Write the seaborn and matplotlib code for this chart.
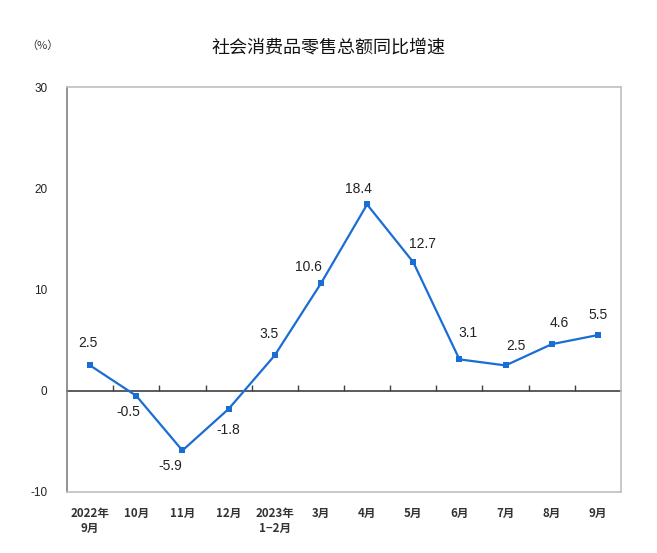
import matplotlib
matplotlib.use('Agg')
import matplotlib.pyplot as plt
import seaborn as sns
import numpy as np

months = ['2022年\n9月', '10月', '11月', '12月', '2023年\n1−2月', '3月',
          '4月', '5月', '6月', '7月', '8月', '9月']
growth = [2.5, -0.5, -5.9, -1.8, 3.5, 10.6, 18.4, 12.7, 3.1, 2.5, 4.6, 5.5]
yticks = [-10, 0, 10, 20, 30]
title = '社会消费品零售总额同比增速'

# label offsets in pixels (dx, dy) relative to each point
offsets = [(-2, 22), (-8, -16), (-12, -16), (0, -21), (-6, 21), (-12, 16),
           (-9, 15), (9, 18), (9, 26), (10, 19), (8, 21), (0, 20)]

sns.set_style('white')
plt.rcParams['font.family'] = ['Liberation Sans', 'Noto Sans CJK SC', 'DejaVu Sans']

fig = plt.figure(figsize=(6.57, 5.53), dpi=100)
ax = fig.add_axes([67 / 657, 61 / 553, 554 / 657, 405 / 553])

x = np.arange(len(growth))
line_color = '#1a6dd4'
sns.lineplot(x=x, y=growth, ax=ax, color=line_color, linewidth=1.6,
             marker='s', markersize=5, markeredgewidth=0, zorder=3)

for i, v in enumerate(growth):
    ax.annotate(f'{v}', (i, v), xytext=offsets[i], textcoords='offset pixels',
                ha='center', va='center', fontsize=10, color='#222222')

ymin, ymax = -10, 30
ax.set_ylim(ymin, ymax)
ax.set_xlim(-0.5, len(growth) - 0.5)
ax.set_yticks(yticks)
ax.set_yticklabels([str(t) for t in yticks], fontsize=8.5, color='#222222')
ax.set_xticks(x)
ax.set_xticklabels(months, fontsize=8.3, fontweight='bold', color='#333333',
                   family=['Noto Sans CJK SC', 'DejaVu Sans'], linespacing=1.2)
ax.tick_params(axis='x', length=0, pad=11)
ax.tick_params(axis='y', length=0, pad=14)

for side in ['top', 'right', 'bottom']:
    ax.spines[side].set_color('#bfbfbf')
    ax.spines[side].set_linewidth(1.2)
ax.spines['left'].set_color('#808080')
ax.spines['left'].set_linewidth(1.2)

# zero line with boundary ticks
zero_frac = (0 - ymin) / (ymax - ymin)
sec = ax.secondary_xaxis(zero_frac)
sec.set_xticks(np.arange(0.5, len(growth) - 0.5, 1.0))
sec.set_xticklabels([])
sec.tick_params(direction='in', length=4, width=1, color='#404040')
sec.spines['bottom'].set_color('#404040')
sec.spines['bottom'].set_linewidth(1.2)
sec.spines['top'].set_visible(False)

fig.text(328 / 657, 1 - 48 / 553, title, ha='center', va='center', fontsize=13,
         family=['Noto Sans CJK SC', 'DejaVu Sans'], color='#111111')
fig.text(42 / 657, 1 - 46 / 553, '（%）', ha='center', va='center', fontsize=8,
         family=['Noto Sans CJK SC', 'DejaVu Sans'], color='#333333')

fig.savefig('out.png', dpi=100, facecolor='white')
